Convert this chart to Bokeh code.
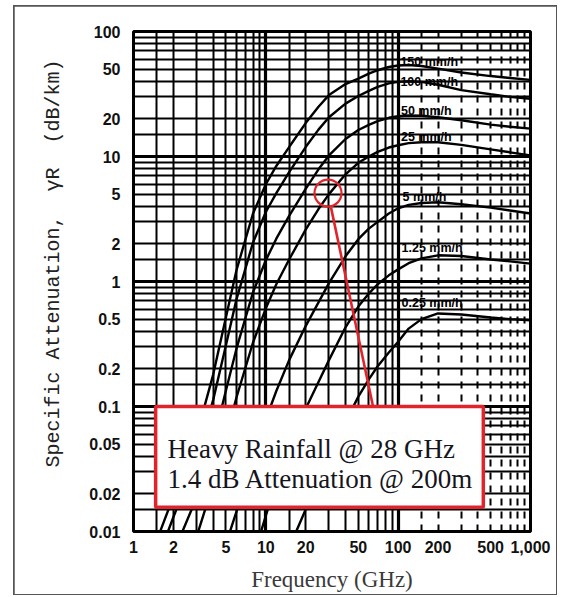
from bokeh.plotting import figure
from bokeh.models import FixedTicker, Grid, Label, Range1d
from bokeh.embed import file_html
from bokeh.resources import INLINE

# ---------------- data ----------------
FREQ = [1.5, 2, 3, 4, 5, 6, 8, 10, 12, 15, 20, 25, 30, 40, 50, 60, 70, 85,
        100, 120, 150, 200, 300, 500, 700, 1000]

ATT_150 = [0.0085, 0.019, 0.059, 0.18, 0.52, 1.23, 3.5, 6.0, 8.4, 11.9, 18.5, 25, 31, 38, 42,
           46, 49, 52, 53.5, 54, 53, 50.5, 47, 44, 42.5, 41]
ATT_100 = [0.0058, 0.013, 0.0385, 0.113, 0.31, 0.72, 2.05, 3.6, 5.1, 7.5, 11.9, 16.4, 20.6, 26.5,
           30.5, 33.5, 36, 38.5, 39.5, 40, 39.5, 37.5, 34, 31.5, 30, 29]
ATT_50 = [0.003, 0.0067, 0.0187, 0.052, 0.135, 0.29, 0.82, 1.48, 2.2, 3.35, 5.5, 7.9, 10.2, 13.8,
          16.3, 17.9, 19.2, 20.4, 21.0, 21.3, 21.2, 20.6, 19.5, 18.0, 17.3, 16.7]
ATT_25 = [0.0015, 0.0034, 0.0091, 0.024, 0.058, 0.118, 0.325, 0.61, 0.95, 1.5, 2.6, 3.8, 5.0, 7.2,
          8.9, 10.0, 10.9, 11.8, 12.3, 12.8, 13.0, 13.0, 12.4, 11.4, 10.8, 10.2]
ATT_5 = [0.0003, 0.0006, 0.0017, 0.004, 0.008, 0.0144, 0.038, 0.079, 0.133, 0.235, 0.44, 0.68,
         0.97, 1.59, 2.18, 2.65, 3.0, 3.5, 3.85, 4.1, 4.25, 4.3, 4.15, 3.9, 3.7, 3.5]
ATT_125 = [0.00005, 0.0001, 0.0003, 0.0006, 0.0012, 0.0023, 0.0061, 0.0134, 0.0247, 0.0475,
           0.096, 0.157, 0.235, 0.43, 0.63, 0.8, 0.95, 1.12, 1.25, 1.4, 1.53, 1.62, 1.6, 1.5,
           1.45, 1.39]
ATT_025 = [0.00001, 0.00002, 0.00005, 0.0001, 0.0002, 0.0004, 0.0009, 0.0017, 0.0035, 0.0074,
           0.015, 0.026, 0.040, 0.075, 0.12, 0.165, 0.21, 0.27, 0.33, 0.42, 0.50, 0.555, 0.545,
           0.515, 0.50, 0.49]

CURVES = [ATT_150, ATT_100, ATT_50, ATT_25, ATT_5, ATT_125, ATT_025]
CURVE_NAMES = ["150 mm/h", "100 mm/h", "50 mm/h", "25 mm/h", "5 mm/h", "1.25 mm/h", "0.25 mm/h"]
# where each curve name is written (frequency, attenuation)
NAME_F = [104, 104, 105, 105, 108, 106, 106]
NAME_A = [56.5, 39.1, 23.3, 14.2, 4.7, 1.87, 0.667]

X_TICKS = [1, 2, 5, 10, 20, 50, 100, 200, 500, 1000]
X_TICK_LABELS = ["1", "2", "5", "10", "20", "50", "100", "200", "500", "1,000"]
Y_TICKS = [0.01, 0.02, 0.05, 0.1, 0.2, 0.5, 1, 2, 5, 10, 20, 50, 100]
Y_TICK_LABELS = ["0.01", "0.02", "0.05", "0.1", "0.2", "0.5", "1", "2", "5", "10", "20", "50", "100"]

GRID_STEPS = [1, 1.5, 2, 3, 4, 5, 6, 7, 8, 9]

# annotation: 28 GHz heavy rain point
MARK_F, MARK_A = 29.5, 5.1
POINTER_F = [31.1, 64.7]
POINTER_A = [3.9, 0.099]
BOX = dict(left=1.47, right=440, top=0.1, bottom=0.0156)
BOX_LINES = ["Heavy Rainfall @ 28 GHz", "1.4 dB Attenuation @ 200m"]
BOX_TEXT_F = 1.81
BOX_TEXT_A = [0.0461, 0.0265]

RED = "#e3232b"

# ---------------- figure ----------------
p = figure(width=542, height=588, x_axis_type="log", y_axis_type="log",
           x_range=Range1d(1, 1000), y_range=Range1d(0.01, 100),
           output_backend="svg", toolbar_location=None,
           min_border_left=119, min_border_right=26, min_border_top=25, min_border_bottom=62,
           background_fill_color="white", border_fill_color="white",
           margin=(6, 10, 3, 14))
p.styles = {"outline": "2px solid #555555", "outline-offset": "-1px"}

p.grid.visible = False

x_solid = [m * d for d in (1, 10) for m in GRID_STEPS]
x_dash = [m * 100 for m in GRID_STEPS[1:]]
y_all = [m * d for d in (0.01, 0.1, 1, 10) for m in GRID_STEPS]
decades_x = [1, 10, 100, 1000]
decades_y = [0.01, 0.1, 1, 10, 100]

p.add_layout(Grid(dimension=0, ticker=FixedTicker(ticks=x_solid), grid_line_color="black",
                  grid_line_width=2))
p.add_layout(Grid(dimension=0, ticker=FixedTicker(ticks=x_dash), grid_line_color="black",
                  grid_line_width=2, grid_line_dash="7 6"))
p.add_layout(Grid(dimension=1, ticker=FixedTicker(ticks=y_all), grid_line_color="black",
                  grid_line_width=2))
p.add_layout(Grid(dimension=0, ticker=FixedTicker(ticks=decades_x), grid_line_color="black",
                  grid_line_width=3.2))
p.add_layout(Grid(dimension=1, ticker=FixedTicker(ticks=decades_y), grid_line_color="black",
                  grid_line_width=3.2))

p.outline_line_color = "black"
p.outline_line_width = 3

# axes
p.xaxis.ticker = FixedTicker(ticks=X_TICKS, minor_ticks=[])
p.yaxis.ticker = FixedTicker(ticks=Y_TICKS, minor_ticks=[])
p.xaxis.major_label_overrides = dict(zip(X_TICKS, X_TICK_LABELS))
p.yaxis.major_label_overrides = dict(zip(Y_TICKS, Y_TICK_LABELS))
for ax in (p.xaxis, p.yaxis):
    ax.axis_line_color = None
    ax.major_tick_line_color = None
    ax.minor_tick_line_color = None
    ax.major_label_text_font = "Liberation Sans"
    ax.major_label_text_font_size = "16px"
    ax.major_label_text_font_style = "bold"
    ax.major_label_text_color = "#111111"
p.xaxis.major_label_standoff = 3
p.yaxis.major_label_standoff = 7

nb = "\u00a0"
p.yaxis.axis_label = nb * 3 + "Specific Attenuation," + nb * 2 + "\u03b3R" + nb * 2 + "(dB/km)"
p.yaxis.axis_label_text_font = "Liberation Mono"
p.yaxis.axis_label_text_font_size = "20px"
p.yaxis.axis_label_text_font_style = "normal"
p.yaxis.axis_label_text_color = "#222222"
p.yaxis.axis_label_standoff = 21

p.xaxis.axis_label = "Frequency (GHz)"
p.xaxis.axis_label_text_font = "Liberation Serif"
p.xaxis.axis_label_text_font_size = "23px"
p.xaxis.axis_label_text_font_style = "normal"
p.xaxis.axis_label_text_color = "#3a3a3a"
p.xaxis.axis_label_standoff = 11

# curves
for vals in CURVES:
    p.line(FREQ, vals, line_color="black", line_width=2.4)

for name, f, a in zip(CURVE_NAMES, NAME_F, NAME_A):
    p.add_layout(Label(x=f, y=a, text=name, text_font="Liberation Sans", text_font_size="12.5px",
                       text_font_style="bold", text_color="#000000", text_baseline="middle",
                       text_align="left"))

# red annotation
p.scatter([MARK_F], [MARK_A], marker="circle", size=27, fill_color=None,
          line_color=RED, line_width=2.2)
p.line(POINTER_F, POINTER_A, line_color=RED, line_width=2.6)
p.quad(left=[BOX["left"]], right=[BOX["right"]], top=[BOX["top"]], bottom=[BOX["bottom"]],
       fill_color="white", line_color=RED, line_width=3.5)
for txt, a in zip(BOX_LINES, BOX_TEXT_A):
    p.add_layout(Label(x=BOX_TEXT_F, y=a, text=txt, text_font="Liberation Serif",
                       text_font_size="27px", text_color="#151520", text_baseline="alphabetic",
                       text_align="left"))

open("out.html", "w").write(file_html(p, INLINE))
